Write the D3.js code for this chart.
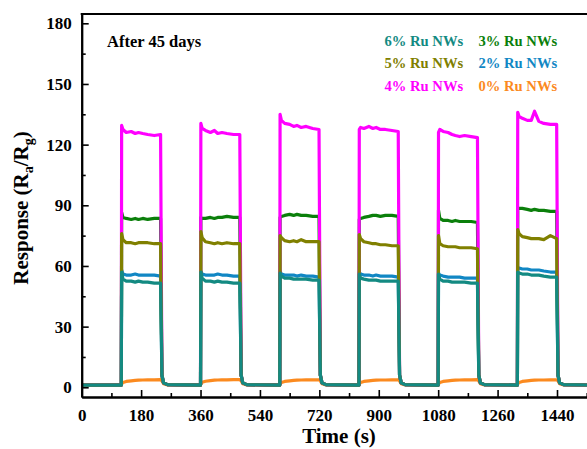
<!DOCTYPE html>
<html>
<head>
<meta charset="utf-8">
<script src="https://cdn.jsdelivr.net/npm/d3@7"></script>
<style>
  body { margin: 0; background: #fff; }
  svg { display: block; }
  text { font-family: "Liberation Serif", "Times New Roman", serif; font-weight: bold; }
</style>
</head>
<body>
<div id="chart-area"></div>
<script>
// gas on / off times (s) and the sample offsets inside each pulse
var onTimes = [120, 360, 600, 840, 1080, 1320];
var pulseLen = 120;
var endTime = 1545;
var sampleOffsets = [1, 5, 15, 30, 42, 52, 65, 80, 100, 119];
var tailOffsets = [3, 8, 20];

var xTicks = [0, 180, 360, 540, 720, 900, 1080, 1260, 1440];
var yTicks = [0, 30, 60, 90, 120, 150, 180];

// responses
var ru6 = [
  [57, 53.5, 52.5, 52.5, 52, 52.5, 52, 52, 51.5, 51.5],
  [57, 54, 52.5, 52.5, 52, 52.5, 52, 52, 51.5, 51.5],
  [56.5, 55, 54, 54, 53.5, 53.5, 53.5, 53.5, 53, 53],
  [56, 54, 53.5, 53, 53, 53, 52.5, 52.5, 52.5, 52.5],
  [56, 53.5, 52.5, 52.5, 52, 52, 52, 52, 51.5, 51.5],
  [57, 56.5, 56, 56, 55.5, 55.5, 55.5, 55, 54.5, 54.5]
];
var ru3 = [
  [86.5, 84, 83.5, 83, 83.5, 83, 83.5, 83, 83.5, 83.5],
  [84, 83.5, 83.5, 84, 83.5, 84, 84, 84.5, 84, 84],
  [84, 84.5, 85, 85.5, 85, 85.5, 85, 85, 84.5, 84.5],
  [83, 83.5, 84, 84.5, 85, 85, 84.5, 85, 85, 84.5],
  [87.5, 83.5, 82.5, 82.5, 82, 82.5, 82, 82, 82, 81.5],
  [88, 88.5, 88.5, 88, 87.5, 88, 87.5, 87.5, 87, 87]
];
var ru5 = [
  [76, 73, 71.5, 71.5, 71, 71.5, 71.5, 71.5, 71, 71],
  [77, 74, 72, 71.5, 71, 71.5, 71, 71.5, 71, 71],
  [75, 74, 72.5, 72, 72.5, 72, 73, 72, 72, 72],
  [75.5, 73.5, 72, 71.5, 71, 71, 70.5, 70.5, 70, 70],
  [75, 71, 70, 69.5, 69.5, 69.5, 69, 69, 69, 68.5],
  [78, 76, 74.5, 74, 73.5, 73.5, 73.5, 73, 75, 73.5]
];
var ru2 = [
  [58, 56, 55.5, 55.5, 56, 55.5, 55.5, 55.5, 55.5, 55],
  [57.5, 56, 55.5, 55.5, 55.5, 56, 55.5, 55.5, 55, 55],
  [57.5, 56, 55.5, 55.5, 55.5, 55, 55.5, 55, 55, 54.5],
  [57, 56, 55.5, 55.5, 55, 55.5, 55, 55, 55, 54.5],
  [56.5, 55.5, 55, 54.5, 54.5, 54.5, 54.5, 54, 54, 54],
  [59, 59, 58.5, 58.5, 58, 58, 58, 57.5, 57, 57]
];
var ru4 = [
  [129.5, 127.5, 126, 126.5, 125.5, 126, 125.5, 125, 124.5, 125],
  [130.5, 128, 127, 126, 127, 125.5, 126, 125.5, 125, 125],
  [135, 132, 130.5, 130, 129, 129.5, 128.5, 129, 128, 127.5],
  [127.5, 128.5, 128, 129, 128, 128.5, 127.5, 127.5, 127, 126.5],
  [126, 127.5, 126.5, 126, 125, 124.5, 124, 124.5, 124, 123.5],
  [136, 134, 133, 132, 132, 136.5, 131.5, 130.5, 130, 130]
];
var ru0 = [
  [1.6, 2.4, 2.9, 3.2, 3.4, 3.5, 3.6, 3.7, 3.7, 3.8],
  [1.6, 2.5, 3.0, 3.3, 3.5, 3.6, 3.7, 3.7, 3.8, 3.8],
  [1.6, 2.4, 2.9, 3.2, 3.4, 3.5, 3.6, 3.7, 3.7, 3.7],
  [1.6, 2.4, 2.9, 3.2, 3.4, 3.5, 3.6, 3.6, 3.7, 3.7],
  [1.6, 2.4, 2.9, 3.2, 3.4, 3.5, 3.6, 3.7, 3.7, 3.8],
  [1.6, 2.4, 2.9, 3.2, 3.4, 3.5, 3.6, 3.6, 3.7, 3.7]
];
var baseline = 1.1;
var recoveryTail = [6, 2.2, 1.3];
var recoveryTail0 = [3.2, 1.8, 1.2];

var colors = {
  "6% Ru NWs": "#138a82",
  "3% Ru NWs": "#0b7f0b",
  "5% Ru NWs": "#808000",
  "2% Ru NWs": "#1187c4",
  "4% Ru NWs": "#ff00ff",
  "0% Ru NWs": "#fb8a1f"
};

var width = 587, height = 449;
var plotLeft = 81.7, plotTop = 14, plotBottom = 397;

var x = d3.scaleLinear().domain([0, 1533]).range([plotLeft, 587.7]);
var y = d3.scaleLinear().domain([-4.8, 184.6]).range([plotBottom, plotTop]);

var svg = d3.select("#chart-area").append("svg")
  .attr("width", width)
  .attr("height", height);

svg.append("defs").append("clipPath").attr("id", "clip")
  .append("rect")
  .attr("x", plotLeft).attr("y", plotTop)
  .attr("width", width - plotLeft).attr("height", plotBottom - plotTop);

function buildSeries(pulses, tail) {
  var pts = [[0, baseline]];
  onTimes.forEach(function(t0, i) {
    pts.push([t0, baseline]);
    sampleOffsets.forEach(function(o, j) { pts.push([t0 + o, pulses[i][j]]); });
    tailOffsets.forEach(function(o, j) { pts.push([t0 + pulseLen + o, tail[j]]); });
  });
  pts.push([endTime, baseline]);
  return pts;
}

var line = d3.line().x(function(d) { return x(d[0]); }).y(function(d) { return y(d[1]); });

// drawing order: bottom first
var drawOrder = [
  {name: "0% Ru NWs", data: ru0, tail: recoveryTail0},
  {name: "2% Ru NWs", data: ru2, tail: recoveryTail},
  {name: "3% Ru NWs", data: ru3, tail: recoveryTail},
  {name: "4% Ru NWs", data: ru4, tail: recoveryTail},
  {name: "5% Ru NWs", data: ru5, tail: recoveryTail},
  {name: "6% Ru NWs", data: ru6, tail: recoveryTail}
];

var lines = svg.append("g").attr("clip-path", "url(#clip)");
drawOrder.forEach(function(s) {
  lines.append("path")
    .datum(buildSeries(s.data, s.tail))
    .attr("fill", "none")
    .attr("stroke", colors[s.name])
    .attr("stroke-width", 3.2)
    .attr("stroke-linejoin", "round")
    .attr("d", line);
});

// axes
svg.append("g").attr("transform", "translate(0," + plotBottom + ")")
  .call(d3.axisBottom(x).tickValues(xTicks).tickFormat(d3.format("d"))
    .tickSize(-7).tickPadding(12).tickSizeOuter(0));
svg.append("g").attr("transform", "translate(0," + plotBottom + ")")
  .call(d3.axisBottom(x).tickValues(d3.range(90, 1600, 180)).tickSize(-4).tickFormat("").tickSizeOuter(0));

svg.append("g").attr("transform", "translate(" + plotLeft + ",0)")
  .call(d3.axisLeft(y).tickValues(yTicks).tickFormat(d3.format("d"))
    .tickSize(-7).tickPadding(10).tickSizeOuter(0));
svg.append("g").attr("transform", "translate(" + plotLeft + ",0)")
  .call(d3.axisLeft(y).tickValues(d3.range(15, 180, 30)).tickSize(-4).tickFormat("").tickSizeOuter(0));

svg.selectAll(".domain").attr("stroke", "#000").attr("stroke-width", 2);
svg.selectAll(".tick line").attr("stroke", "#000").attr("stroke-width", 1.6);
svg.selectAll(".tick text")
  .attr("fill", "#000")
  .style("font-size", "17px")
  .style("font-family", "'Liberation Serif', 'Times New Roman', serif")
  .style("font-weight", "bold");

// top frame
svg.append("line")
  .attr("x1", plotLeft - 1).attr("x2", width)
  .attr("y1", plotTop).attr("y2", plotTop)
  .attr("stroke", "#000").attr("stroke-width", 2);

// titles
svg.append("text")
  .attr("x", 339).attr("y", 443)
  .attr("text-anchor", "middle")
  .attr("font-size", "21px")
  .text("Time (s)");

var yLabel = svg.append("text")
  .attr("transform", "translate(28,208) rotate(-90)")
  .attr("text-anchor", "middle")
  .attr("font-size", "21px");
yLabel.append("tspan").text("Response (R");
yLabel.append("tspan").attr("font-size", "14px").attr("dy", 5).text("a");
yLabel.append("tspan").attr("dy", -5).text("/R");
yLabel.append("tspan").attr("font-size", "14px").attr("dy", 5).text("g");
yLabel.append("tspan").attr("dy", -5).text(")");

svg.append("text")
  .attr("x", 107).attr("y", 46.5)
  .attr("font-size", "16.5px")
  .text("After 45 days");

// legend (text only, coloured)
var legendCols = [384.5, 478.5];
var legendRows = [45.7, 68.3, 90.7];
var legendLayout = [
  ["6% Ru NWs", "3% Ru NWs"],
  ["5% Ru NWs", "2% Ru NWs"],
  ["4% Ru NWs", "0% Ru NWs"]
];
legendLayout.forEach(function(row, r) {
  row.forEach(function(name, c) {
    svg.append("text")
      .attr("x", legendCols[c]).attr("y", legendRows[r])
      .attr("font-size", "14.6px")
      .attr("fill", colors[name])
      .text(name);
  });
});
</script>
</body>
</html>
